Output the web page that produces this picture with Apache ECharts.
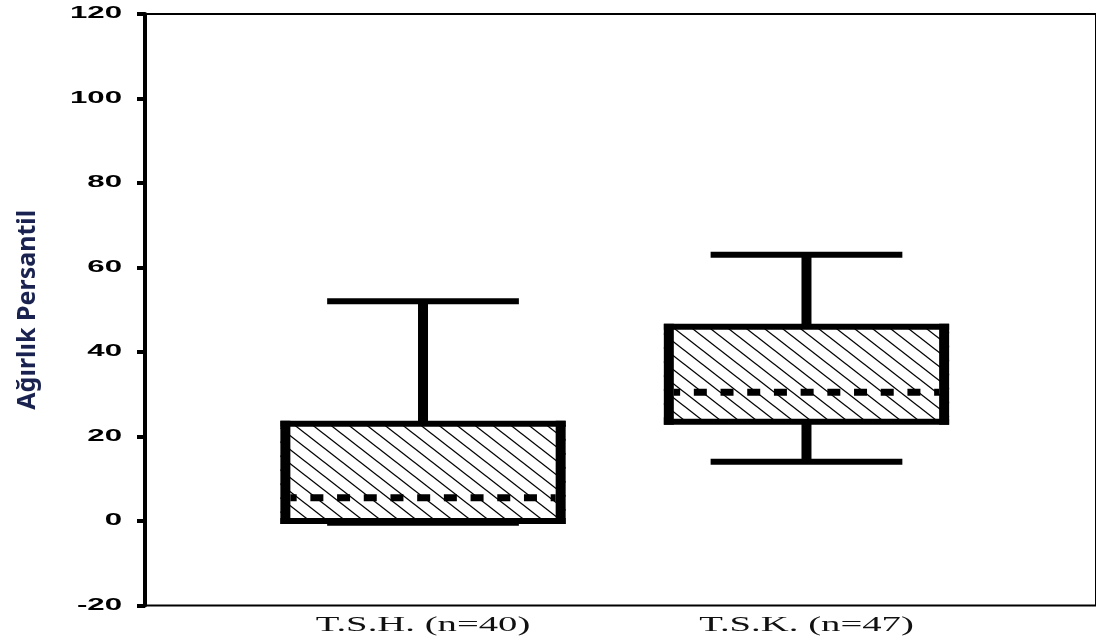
<!DOCTYPE html>
<html><head><meta charset="utf-8">
<script src="https://cdn.jsdelivr.net/npm/echarts@6/dist/echarts.min.js"></script>
<style>html,body{margin:0;padding:0;background:#fff}#c{width:1096px;height:643px}</style>
</head><body><div id="c"></div>
<script>
const categories = ['T.S.H. (n=40)', 'T.S.K. (n=47)'];
const whiskerLow = [-0.4, 14];
const q1 = [0, 23.5];
const median = [5.5, 30.5];
const q3 = [23, 46];
const whiskerHigh = [52, 63];
const yTicks = [-20, 0, 20, 40, 60, 80, 100, 120];
const yAxisName = 'Ağırlık Persantil';

const X_MIN = 0.275, X_MAX = 2.755, Y_MIN = -20, Y_MAX = 120;

function makeHatch() {
  const w = 18, h = 14;
  const c = document.createElement('canvas');
  c.width = w; c.height = h;
  const g = c.getContext('2d');
  g.fillStyle = '#fff'; g.fillRect(0, 0, w, h);
  g.strokeStyle = '#000'; g.lineWidth = 1.3;
  for (let k = -1; k <= 1; k++) {
    const o = k * w;
    g.beginPath(); g.moveTo(o - w, -h); g.lineTo(o + 2 * w, 2 * h); g.stroke();
  }
  return c;
}
const hatchCanvas = makeHatch();

const boxData = categories.map((c, i) => [i + 1, whiskerLow[i], q1[i], median[i], q3[i], whiskerHigh[i]]);

function blk(x, y, w, h) {
  return { type: 'rect', shape: { x: x, y: y, width: w, height: h }, style: { fill: '#000' } };
}

function renderBox(params, api) {
  const xc = api.value(0);
  const lo = api.value(1), b = api.value(2), m = api.value(3), t = api.value(4), hi = api.value(5);
  const unit = api.size([1, 0])[0];
  const half = 0.372 * unit, capHalf = 0.25 * unit;
  const c = api.coord([xc, 0])[0];
  const yLo = api.coord([xc, lo])[1], yB = api.coord([xc, b])[1], yM = api.coord([xc, m])[1];
  const yT = api.coord([xc, t])[1], yHi = api.coord([xc, hi])[1];
  const H = 6, V = 10;
  const L = c - half, R = c + half;
  const children = [
    { type: 'rect', shape: { x: L, y: yT, width: R - L, height: yB - yT }, style: { fill: { image: hatchCanvas, repeat: 'repeat' } } },
    { type: 'line', shape: { x1: L + V, y1: yM, x2: R - V, y2: yM }, style: { stroke: '#000', lineWidth: 7, lineDash: [13, 13.7], lineDashOffset: 6.7 } },
    blk(L, yT - H / 2, R - L, H),
    blk(L, yB - H / 2, R - L, H),
    blk(L, yT - H / 2, V, yB - yT + H),
    blk(R - V, yT - H / 2, V, yB - yT + H),
    blk(c - V / 2, yHi, V, yT - yHi),
    blk(c - capHalf, yHi - H / 2, 2 * capHalf, H),
    blk(c - V / 2, yB, V, Math.max(0, yLo - yB)),
    blk(c - capHalf, yLo - H / 2, 2 * capHalf, H)
  ];
  return { type: 'group', children: children };
}

const chart = echarts.init(document.getElementById('c'));
chart.setOption({
  animation: false,
  backgroundColor: '#fff',
  grid: { left: 145, right: -16, top: 14, bottom: 37.5, show: true, borderColor: '#000', borderWidth: 2, backgroundColor: 'transparent' },
  xAxis: {
    type: 'value', min: X_MIN, max: X_MAX,
    axisLine: { show: false }, axisTick: { show: false }, axisLabel: { show: false }, splitLine: { show: false }
  },
  yAxis: {
    type: 'value', min: Y_MIN, max: Y_MAX, interval: 20,
    name: yAxisName, nameLocation: 'middle', nameRotate: 90, nameGap: 105,
    nameTextStyle: { fontFamily: 'Noto Sans', fontWeight: 'bold', fontSize: 25, color: '#1a2350' },
    axisLine: { show: true, lineStyle: { color: '#000', width: 4 } },
    axisTick: { show: true, length: 8, lineStyle: { color: '#000', width: 4 } },
    axisLabel: { show: false }, splitLine: { show: false }
  },
  series: [
    { type: 'custom', name: 'box', data: boxData, renderItem: renderBox, silent: true, z: 3,
      encode: { x: 0, y: [1, 2, 3, 4, 5] } },
    { type: 'custom', name: 'yLabels', data: yTicks.map(v => [v]), encode: { y: 0 }, silent: true, z: 5,
      renderItem: function (params, api) {
        const v = api.value(0);
        const pt = api.coord([X_MIN, v]);
        return { type: 'text', x: pt[0] - 23, y: pt[1], scaleX: 1.95,
          style: { text: String(yTicks[params.dataIndex]), align: 'right', verticalAlign: 'middle', fill: '#000', font: 'bold 16px "Liberation Sans"' } };
      } },
    { type: 'custom', name: 'xLabels', data: categories.map((c, i) => [i + 1]), encode: { x: 0 }, silent: true, z: 5,
      renderItem: function (params, api) {
        const v = api.value(0);
        const pt = api.coord([v, Y_MIN]);
        return { type: 'text', x: pt[0], y: pt[1] + 19.5, scaleX: 1.76,
          style: { text: categories[params.dataIndex], align: 'center', verticalAlign: 'middle', fill: '#111', font: '22px "Liberation Serif"' } };
      } }
  ]
});
</script></body></html>
